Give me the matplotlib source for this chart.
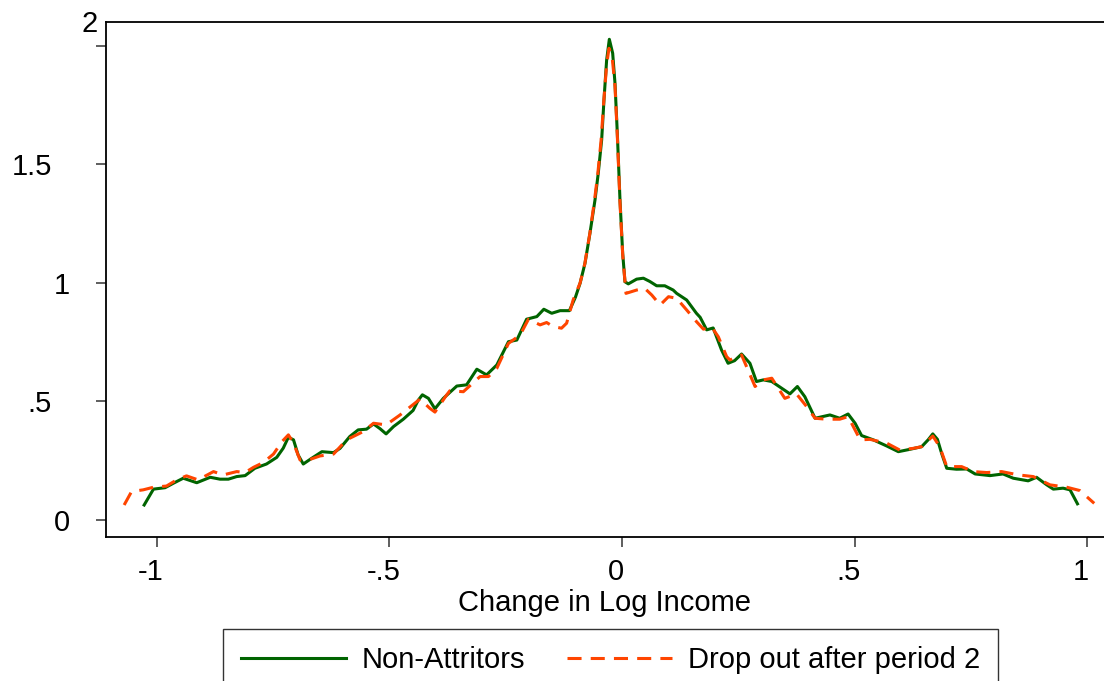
import matplotlib
matplotlib.use("Agg")
import matplotlib.pyplot as plt
from matplotlib.transforms import ScaledTranslation

plt.rcParams['font.family'] = ['Liberation Sans', 'DejaVu Sans']

# kernel density of change in log income
nonatt_x = [-1.027, -1.007, -0.982, -0.964, -0.943, -0.914, -0.885, -0.864, -0.846, -0.828,
            -0.81, -0.789, -0.764, -0.742, -0.728, -0.717, -0.706, -0.696, -0.685, -0.667,
            -0.645, -0.62, -0.606, -0.585, -0.567, -0.549, -0.534, -0.52, -0.507, -0.491,
            -0.47, -0.449, -0.438, -0.429, -0.416, -0.402, -0.384, -0.355, -0.334, -0.312,
            -0.291, -0.269, -0.244, -0.226, -0.205, -0.183, -0.168, -0.151, -0.133, -0.113,
            -0.1, -0.09, -0.0795, -0.0688, -0.058, -0.051, -0.0437, -0.0387, -0.033, -0.0272,
            -0.02, -0.015, -0.01, -0.0043, 0.0015, 0.0064, 0.0136, 0.0315, 0.046, 0.06,
            0.0745, 0.092, 0.11, 0.1175, 0.139, 0.16, 0.168, 0.182, 0.196, 0.214,
            0.228, 0.242, 0.257, 0.275, 0.289, 0.304, 0.322, 0.34, 0.361, 0.377,
            0.393, 0.415, 0.447, 0.468, 0.486, 0.501, 0.515, 0.54, 0.569, 0.594,
            0.619, 0.644, 0.658, 0.668, 0.678, 0.687, 0.698, 0.719, 0.741, 0.759,
            0.791, 0.819, 0.841, 0.873, 0.891, 0.913, 0.927, 0.948, 0.963, 0.979]
nonatt_y = [0.063, 0.13, 0.136, 0.155, 0.176, 0.157, 0.18, 0.172, 0.172, 0.183,
            0.187, 0.218, 0.236, 0.264, 0.303, 0.349, 0.338, 0.274, 0.236, 0.26,
            0.288, 0.284, 0.302, 0.352, 0.38, 0.383, 0.405, 0.385, 0.363, 0.394,
            0.425, 0.462, 0.505, 0.528, 0.513, 0.469, 0.513, 0.565, 0.57, 0.636,
            0.612, 0.654, 0.752, 0.759, 0.847, 0.858, 0.889, 0.872, 0.883, 0.883,
            0.94, 0.999, 1.083, 1.21, 1.35, 1.463, 1.603, 1.772, 1.94, 2.028,
            1.969, 1.842, 1.63, 1.35, 1.125, 1.005, 0.996, 1.016, 1.02, 1.006,
            0.988, 0.988, 0.97, 0.956, 0.928, 0.872, 0.855, 0.802, 0.81, 0.717,
            0.661, 0.672, 0.70, 0.661, 0.584, 0.591, 0.584, 0.56, 0.532, 0.563,
            0.52, 0.429, 0.443, 0.429, 0.447, 0.408, 0.356, 0.338, 0.312, 0.288,
            0.298, 0.309, 0.338, 0.363, 0.34, 0.281, 0.218, 0.214, 0.215, 0.194,
            0.187, 0.194, 0.176, 0.165, 0.18, 0.148, 0.13, 0.134, 0.127, 0.068]

drop_x = [-1.07, -1.054, -1.029, -1.007, -0.979, -0.957, -0.936, -0.911, -0.878, -0.857,
          -0.828, -0.81, -0.792, -0.771, -0.749, -0.731, -0.717, -0.706, -0.692, -0.674,
          -0.649, -0.62, -0.592, -0.556, -0.534, -0.507, -0.477, -0.434, -0.413, -0.402,
          -0.377, -0.37, -0.341, -0.305, -0.287, -0.269, -0.244, -0.219, -0.201, -0.176,
          -0.162, -0.148, -0.13, -0.119, -0.105, -0.09, -0.08, -0.069, -0.059, -0.052,
          -0.045, -0.039, -0.033, -0.028, -0.021, -0.015, -0.01, -0.0043, 0.0015, 0.0086,
          0.0315, 0.049, 0.064, 0.082, 0.1, 0.1175, 0.139, 0.16, 0.175, 0.193,
          0.207, 0.225, 0.232, 0.257, 0.286, 0.304, 0.322, 0.35, 0.375, 0.397,
          0.415, 0.44, 0.468, 0.486, 0.512, 0.533, 0.569, 0.597, 0.626, 0.644,
          0.668, 0.683, 0.698, 0.73, 0.755, 0.784, 0.816, 0.852, 0.884, 0.92,
          0.956, 0.984, 1.015]
drop_y = [0.063, 0.12, 0.127, 0.138, 0.143, 0.169, 0.186, 0.169, 0.204, 0.19,
          0.204, 0.2, 0.222, 0.242, 0.278, 0.33, 0.359, 0.324, 0.253, 0.253,
          0.27, 0.278, 0.338, 0.373, 0.408, 0.401, 0.443, 0.51, 0.471, 0.455,
          0.527, 0.545, 0.541, 0.605, 0.605, 0.64, 0.745, 0.78, 0.847, 0.823,
          0.833, 0.816, 0.809, 0.83, 0.928, 1.0, 1.08, 1.21, 1.35, 1.46,
          1.6, 1.77, 1.92, 1.99, 1.95, 1.83, 1.62, 1.34, 1.12, 0.956,
          0.97, 0.977, 0.949, 0.907, 0.942, 0.935, 0.886, 0.837, 0.805, 0.813,
          0.773, 0.689, 0.675, 0.696, 0.563, 0.591, 0.598, 0.513, 0.532, 0.478,
          0.429, 0.425, 0.425, 0.436, 0.338, 0.34, 0.324, 0.295, 0.302, 0.309,
          0.354, 0.309, 0.225, 0.225, 0.204, 0.2, 0.204, 0.19, 0.183, 0.148,
          0.138, 0.124, 0.07]

xticks = [-1, -0.5, 0, 0.5, 1]
xtick_labels = ['-1', '-.5', '0', '.5', '1']
yticks = [0, 0.5, 1, 1.5, 2]
ytick_labels = ['0', '.5', '1', '1.5', '2']

W, H = 1104, 681
fig = plt.figure(figsize=(W / 100, H / 100), dpi=100)
ax = fig.add_axes([106 / W, 1 - 537 / H, 1 - 106 / W, (537 - 22) / H])

ax.plot(nonatt_x, nonatt_y, color='#006400', lw=2.2, label='Non-Attritors',
        solid_joinstyle='round')
ax.plot(drop_x, drop_y, color='#ff4500', lw=2.2, dashes=(4.6, 3.0),
        label='Drop out after period 2', dash_joinstyle='round')

ax.set_xlim(-1.109, 1.036)
ax.set_ylim(-0.072, 2.101)

ax.set_xticks(xticks)
ax.set_xticklabels(xtick_labels)
ax.set_yticks(yticks)
ax.set_yticklabels(ytick_labels)
ax.tick_params(axis='both', length=7.2, width=1.1, color='#333333',
               labelsize=21, labelcolor='black')
ax.tick_params(axis='x', pad=8)
ax.tick_params(axis='y', pad=18.7)

# nudge labels to where Stata put them
for lbl in ax.get_xticklabels():
    lbl.set_transform(lbl.get_transform() + ScaledTranslation(-6 / 100, 0, fig.dpi_scale_trans))
y_shift = [(0, 0), (-18, 0), (0, 0), (-18, 0), (28, 25)]
for lbl, (dx, dy) in zip(ax.get_yticklabels(), y_shift):
    lbl.set_transform(lbl.get_transform() + ScaledTranslation(dx / 100, dy / 100, fig.dpi_scale_trans))

for side in ['left', 'bottom', 'top']:
    ax.spines[side].set_linewidth(1.3)
    ax.spines[side].set_color('black')
ax.spines['right'].set_visible(False)

ax.set_xlabel('Change in Log Income', fontsize=21, labelpad=2)

leg = fig.legend(loc='upper left', bbox_to_anchor=(223 / W, 1 - 629 / H), ncol=2,
                 fontsize=21, frameon=True, fancybox=False, edgecolor='black',
                 handlelength=3.6, columnspacing=1.43, handletextpad=0.55,
                 borderpad=0.6, borderaxespad=0)
leg.get_frame().set_linewidth(1.0)

fig.savefig('out.png', dpi=100)
